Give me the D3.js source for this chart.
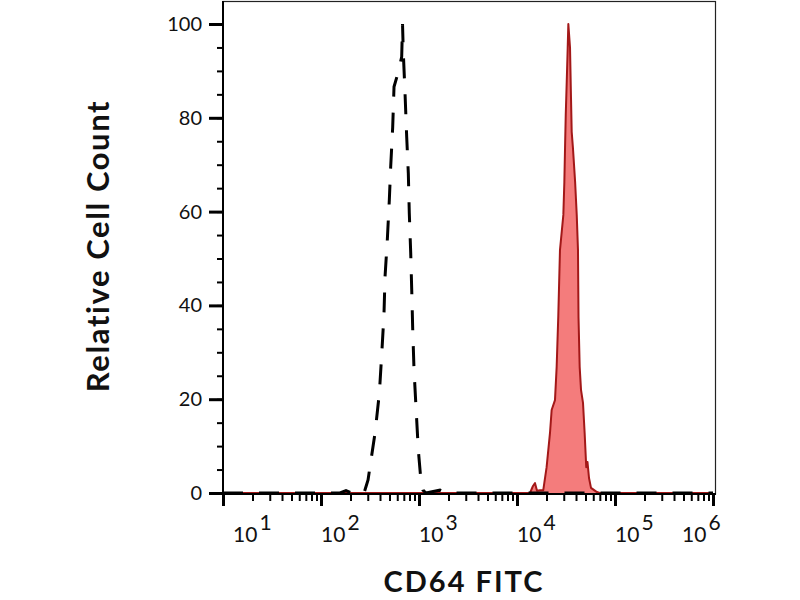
<!DOCTYPE html>
<html>
<head>
<meta charset="utf-8">
<script src="https://cdn.jsdelivr.net/npm/d3@7/dist/d3.min.js"></script>
<style>
  html, body { margin: 0; padding: 0; background: #ffffff; }
  svg { display: block; }
  text { font-family: Lato, "Open Sans", sans-serif; fill: #111; }
</style>
</head>
<body>
<svg id="chart" width="800" height="600"></svg>
<script>
// ---- data ----
// Isotype control histogram (dashed black)
const ctrlFluor = [10, 156, 180, 207, 275, 302, 356, 394, 416, 439, 450, 475, 498, 514, 539, 556, 611, 666, 679,
                   692, 720, 749, 778, 796, 823, 843, 863, 890, 932, 984, 1035, 1098, 1178, 1637, 1886, 1000000];
const ctrlCount = [0, 0, 0.5, 0, 0, 2.8, 12.8, 21.3, 29.4, 38, 46, 54, 62.5, 69.5, 78, 86.6, 89.6, 93, 100,
                   93.8, 85.3, 75.9, 68.2, 59.7, 51.2, 43.3, 34.8, 26.2, 18.3, 9.2, 3.8, 0.6, 0, 0.6, 0, 0];
// CD64 FITC stained histogram (filled red)
const cd64Fluor = [10, 13580, 14560, 15270, 16000, 17180, 18540, 20050, 21710, 22570, 24410, 25390, 26360, 27450,
                   29710, 30420, 30920, 31430, 32160, 32910, 33410,
                   34760, 35570, 36150, 37220, 39180, 40700, 41900, 42430, 43600, 45000, 47160, 49000, 50900,
                   52400, 54300, 56900, 65400, 70000, 1000000];
const cd64Count = [0, 0, 1.5, 2.1, 0.5, 0.6, 0.6, 5.5, 12.8, 17.7, 19.8, 26.9, 37.5, 51.8,
                   59.3, 66.3, 73.6, 80.6, 87.6, 94.9, 100,
                   94.9, 84.2, 77, 73.6, 66.3, 59.3, 51.8, 37.5, 26.9, 22, 19.2, 12.8, 5.5,
                   6.6, 3.2, 1.1, 0.2, 0, 0];
const xDecades = [10, 100, 1000, 10000, 100000, 1000000];
const xDecadeExp = ["1", "2", "3", "4", "5", "6"];
const yTicks = [0, 20, 40, 60, 80, 100];
const xTitle = "CD64 FITC";
const yTitle = "Relative Cell Count";

// ---- layout ----
const svg = d3.select("#chart");
const plotLeft = 223, plotRight = 713, plotTop = 24, plotBottom = 493;
const x = d3.scaleLog().domain([10, 1e6]).range([plotLeft, plotRight]);
const y = d3.scaleLinear().domain([0, 100]).range([plotBottom, plotTop]);

const ctrl = ctrlFluor.map((v, i) => [v, ctrlCount[i]]);
const cd64 = cd64Fluor.map((v, i) => [v, cd64Count[i]]);

// frame
svg.append("rect")
  .attr("x", plotLeft).attr("y", 1.5)
  .attr("width", 715.5 - plotLeft).attr("height", plotBottom + 1 - 1.5)
  .attr("fill", "none").attr("stroke", "#222").attr("stroke-width", 1.2);

// red filled histogram
const area = d3.area().x(d => x(d[0])).y0(y(0)).y1(d => y(d[1]));
const line = d3.line().x(d => x(d[0])).y(d => y(d[1]));
svg.append("path").datum(cd64)
  .attr("d", area)
  .attr("fill", "#f47c7c").attr("stroke", "none");
svg.append("path").datum(cd64)
  .attr("d", line)
  .attr("fill", "none").attr("stroke", "#a31818").attr("stroke-width", 2)
  .attr("stroke-linejoin", "round");

// dashed control histogram
svg.append("path").datum(ctrl)
  .attr("d", line)
  .attr("fill", "none").attr("stroke", "#000").attr("stroke-width", 3)
  .attr("stroke-dasharray", "20,16");

// ---- y axis ----
const yMinor = d3.range(0, 101, 5);
const yAxisMinor = d3.axisLeft(y).tickValues(yMinor).tickSize(6).tickFormat("");
const gyMinor = svg.append("g").attr("transform", `translate(${plotLeft},0)`).call(yAxisMinor);
gyMinor.select(".domain").remove();
gyMinor.selectAll(".tick line").attr("stroke", "#000").attr("stroke-width", 2);

const yAxis = d3.axisLeft(y).tickValues(yTicks).tickSize(14).tickPadding(6).tickFormat(d3.format("d"));
const gy = svg.append("g").attr("transform", `translate(${plotLeft},0)`).call(yAxis);
gy.select(".domain").remove();
gy.selectAll(".tick line").attr("stroke", "#000").attr("stroke-width", 3);
gy.selectAll(".tick text")
  .attr("font-family", "Lato, sans-serif").attr("font-size", 20).attr("fill", "#222")
  .attr("x", -21);
svg.append("line").attr("x1", plotLeft).attr("x2", plotLeft).attr("y1", 1).attr("y2", plotBottom + 2)
  .attr("stroke", "#000").attr("stroke-width", 2);

// ---- x axis ----
const xMinor = [];
xDecades.slice(0, -1).forEach(d => { for (let k = 2; k <= 9; k++) xMinor.push(d * k); });
const xAxisMinor = d3.axisBottom(x).tickValues(xMinor).tickSize(7).tickFormat("");
const gxMinor = svg.append("g").attr("transform", `translate(0,${plotBottom + 1})`).call(xAxisMinor);
gxMinor.select(".domain").remove();
gxMinor.selectAll(".tick line").attr("stroke", "#000").attr("stroke-width", 2);

const xAxis = d3.axisBottom(x).tickValues(xDecades).tickSize(12).tickFormat("");
const gx = svg.append("g").attr("transform", `translate(0,${plotBottom + 1})`).call(xAxis);
gx.select(".domain").remove();
gx.selectAll(".tick line").attr("stroke", "#000").attr("stroke-width", 3);
svg.append("line").attr("x1", plotLeft - 1).attr("x2", 716).attr("y1", plotBottom + 1).attr("y2", plotBottom + 1)
  .attr("stroke", "#000").attr("stroke-width", 2);

// decade labels 10^n
const labelShift = [10, 0, 0, 0, 0, -31];
xDecades.forEach((d, i) => {
  const t = svg.append("text")
    .attr("x", x(d) + labelShift[i]).attr("y", 542)
    .attr("font-size", 21).attr("fill", "#222");
  t.append("tspan").text("10");
  t.append("tspan").attr("dx", 2).attr("dy", -12).text(xDecadeExp[i]);
});

// titles
svg.append("text")
  .attr("x", 464).attr("y", 592)
  .attr("text-anchor", "middle")
  .attr("font-size", 29).attr("font-weight", "bold").attr("fill", "#000")
  .attr("letter-spacing", 2)
  .text(xTitle);
svg.append("text")
  .attr("transform", "translate(109,246) rotate(-90)")
  .attr("text-anchor", "middle")
  .attr("font-size", 31).attr("font-weight", "bold").attr("fill", "#000")
  .attr("letter-spacing", 1.6)
  .text(yTitle);
</script>
</body>
</html>
